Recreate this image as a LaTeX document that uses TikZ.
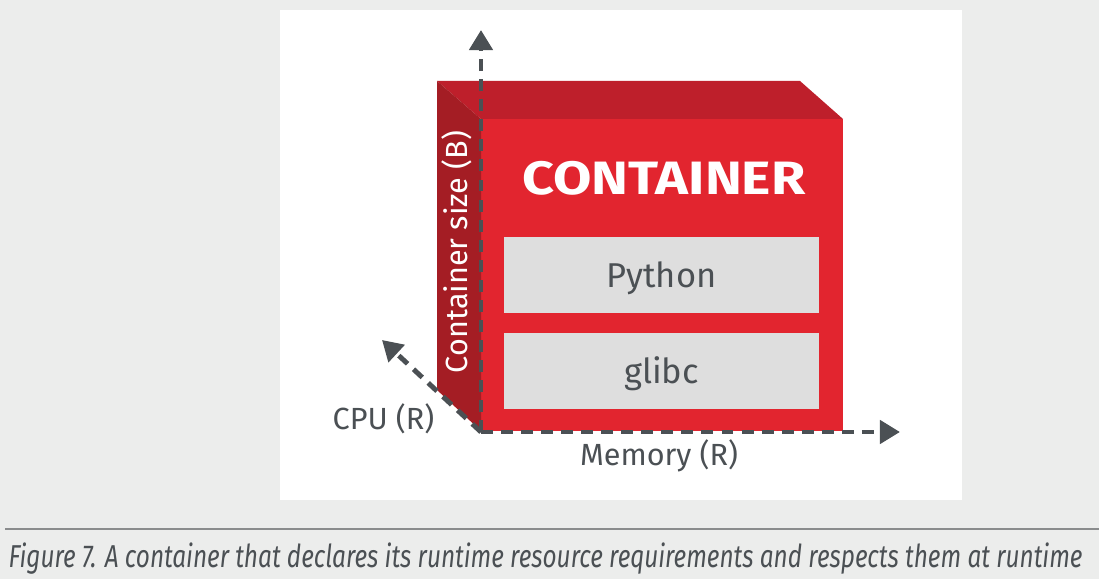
\documentclass[tikz,border=0pt]{standalone}
\usepackage{fontspec}
\setmainfont{Fira Sans}
\newfontfamily\widefont[FakeStretch=1.19]{Fira Sans}
\newfontfamily\narrowfont[FakeStretch=0.77]{Fira Sans}
\usepackage{xcolor}
\usetikzlibrary{arrows.meta, positioning}

\definecolor{bgGray}{HTML}{ECEDEC}
\definecolor{frontRed}{HTML}{E2252F}
\definecolor{topRed}{HTML}{BE1F2B}
\definecolor{sideRed}{HTML}{A41D24}
\definecolor{libGray}{HTML}{DEDEDE}
\definecolor{inkGray}{HTML}{4B5054}
\definecolor{ruleGray}{HTML}{8A8C8D}

\begin{document}
\begin{tikzpicture}[x=0.01cm, y=-0.01cm,
    axis/.style={draw=inkGray, line width=1.4pt, dash pattern=on 3.4pt off 2.3pt,
      -{Triangle[width=6.5pt,length=5.7pt]}},
    libbox/.style={fill=libGray, minimum width=3.15cm, minimum height=0.76cm, inner sep=0pt,
      text=inkGray, font=\fontsize{9.8}{11}\selectfont, text height=7pt, text depth=0pt},
    axislabel/.style={text=inkGray, font=\fontsize{8.7}{10}\selectfont, inner sep=0pt, anchor=base}]

    % Sfondo
    \useasboundingbox (0,0) rectangle (1099,579);
    \fill[bgGray] (0,0) rectangle (1099,579);
    \fill[white] (280,10) rectangle (962,500);

    % Cubo
    \fill[frontRed] (481,119) rectangle (843,431);
    \fill[topRed] (437,81) -- (800,81) -- (843,119) -- (481,119) -- cycle;
    \fill[sideRed] (437,81) -- (481,119) -- (481,431) -- (437,390) -- cycle;

    \node[text=white, font=\widefont\fontsize{13.3}{15}\bfseries, inner sep=0pt, anchor=base] (title) at (664,195) {CONTAINER};
    \node[libbox] (python) at (661.5,275) {Python};
    \node[libbox] (glibc) at (661.5,371) {glibc};
    \node[text=white, font=\fontsize{8.7}{10}\selectfont, inner sep=0pt, rotate=90] (size) at (457,252) {Container size (B)};

    % Assi
    \coordinate (O) at (481,432);
    \coordinate (up) at (481,30);
    \coordinate (right) at (900,432);
    \coordinate (back) at (382,340);
    \draw[axis] (O) -- (up);
    \draw[axis] (O) -- (right);
    \draw[axis] (O) -- (back);

    \node[axislabel] (cpu) at (383.5,430) {CPU (R)};
    \node[axislabel] (memory) at (659,466) {Memory (R)};

    % Didascalia
    \draw[ruleGray, line width=0.6pt] (5,529) -- (1099,529);
    \node[anchor=base west, inner sep=0pt, text=inkGray, font=\narrowfont\fontsize{9.0}{11}\itshape] (caption) at (8,568)
      {Figure 7. A container that declares its runtime resource requirements and respects them at runtime};
\end{tikzpicture}
\end{document}
